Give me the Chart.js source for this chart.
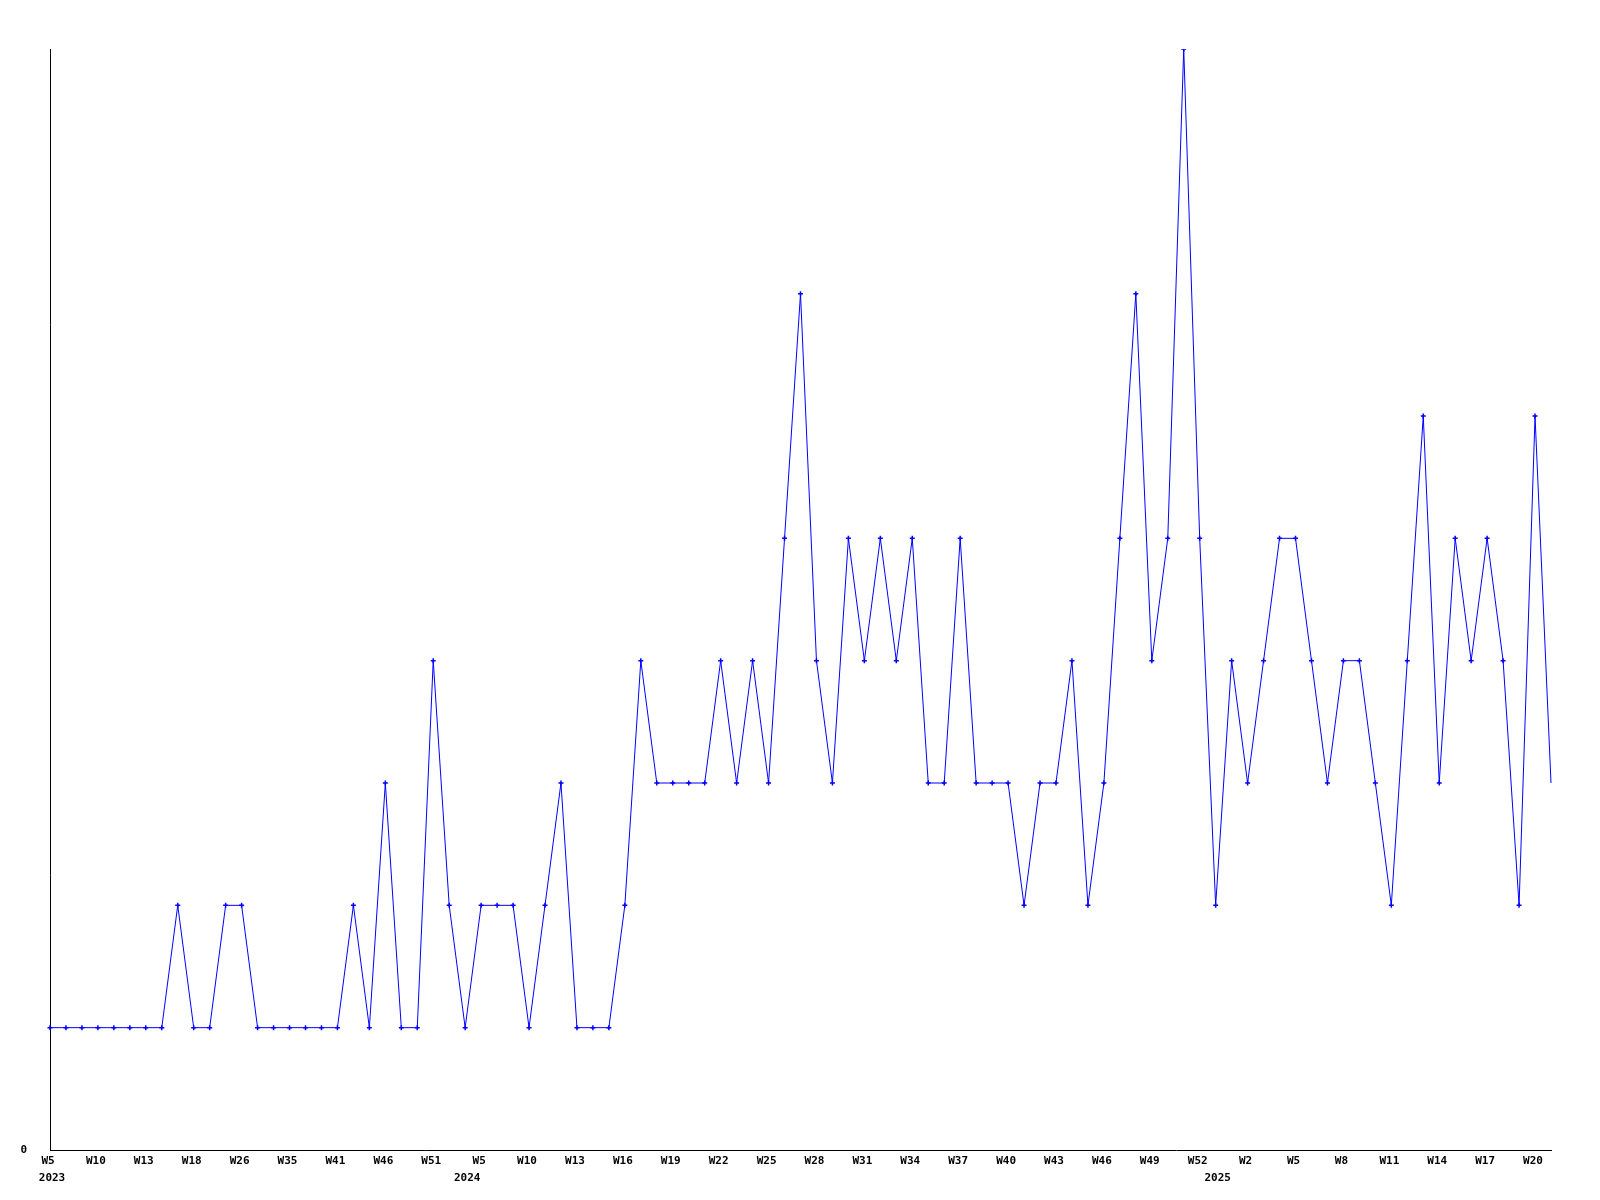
<!DOCTYPE html>
<html>
<head>
<meta charset="utf-8">
<script src="https://cdn.jsdelivr.net/npm/chart.js@4/dist/chart.umd.min.js"></script>
<style>
    body { margin: 0; background: #fff; }
    #contenedor { width: 1600px; height: 1200px; }
</style>
</head>
<body>
<div id="contenedor"><canvas id="grafico"></canvas></div>
<script>
// Semanas con datos (solo se muestra una de cada tres en el eje)
const semanas = [
    "W5", "W6", "W8", "W10", "W11", "W12", "W13", "W15", "W17", "W18",
    "W21", "W23", "W26", "W29", "W31", "W35", "W37", "W39", "W41", "W43",
    "W44", "W46", "W48", "W49", "W51", "W52",
    "W2", "W5", "W7", "W8", "W10", "W11", "W12", "W13", "W14", "W15",
    "W16", "W17", "W18", "W19", "W20", "W21", "W22", "W23", "W24", "W25",
    "W26", "W27", "W28", "W29", "W30", "W31", "W32", "W33", "W34", "W35",
    "W36", "W37", "W38", "W39", "W40", "W41", "W42", "W43", "W44", "W45",
    "W46", "W47", "W48", "W49", "W50", "W51", "W52",
    "W1", "W1", "W2", "W3", "W4", "W5", "W6", "W7", "W8", "W9", "W10",
    "W11", "W12", "W13", "W14", "W15", "W16", "W17", "W18", "W19", "W20", "W21"
];

// Años y el indice del eje donde se escribe cada uno
const anios = ["2023", "2024", "2025"];
const posicionAnio = [0, 26, 73];

// Cantidad por semana
const valores = [
    1, 1, 1, 1, 1, 1, 1, 1, 2, 1,
    1, 2, 2, 1, 1, 1, 1, 1, 1, 2,
    1, 3, 1, 1, 4, 2, 1, 2, 2, 2,
    1, 2, 3, 1, 1, 1, 2, 4, 3, 3,
    3, 3, 4, 3, 4, 3, 5, 7, 4, 3,
    5, 4, 5, 4, 5, 3, 3, 5, 3, 3,
    3, 2, 3, 3, 4, 2, 3, 5, 7, 4,
    5, 9, 5, 2, 4, 3, 4, 5, 5, 4,
    3, 4, 4, 3, 2, 4, 6, 3, 5, 4,
    5, 4, 2, 6, 3
];

const PASO_ETIQUETA = 3;

const fuente = { family: "'DejaVu Sans Mono', monospace", size: 11, weight: 'bold', lineHeight: 1.35 };

const ctx = document.getElementById('grafico');
new Chart(ctx, {
    type: 'line',
    data: {
        labels: semanas,
        datasets: [{
            data: valores,
            xAxisID: 'x',
            borderColor: '#0000ff',
            backgroundColor: '#0000ff',
            borderWidth: 1,
            tension: 0,
            pointStyle: 'cross',
            pointRadius: valores.map((v, i) => i == valores.length - 1 ? 0 : 2.5),
            pointBorderWidth: 1.5,
            pointBorderColor: '#0000ff',
            fill: false
        }]
    },
    options: {
        responsive: true,
        maintainAspectRatio: false,
        animation: false,
        layout: {
            padding: { top: 49, right: 49, left: 0, bottom: 0 }
        },
        plugins: {
            legend: { display: false },
            tooltip: { enabled: false }
        },
        scales: {
            x: {
                type: 'category',
                position: 'bottom',
                weight: 0,
                offset: false,
                grid: { display: false, drawTicks: false },
                border: { display: true, color: '#000', width: 1 },
                ticks: {
                    autoSkip: false,
                    maxRotation: 0,
                    minRotation: 0,
                    padding: 4,
                    labelOffset: -2,
                    color: '#000',
                    font: fuente,
                    callback: function (value, index) {
                        return index % PASO_ETIQUETA == 0 ? semanas[index] : "";
                    }
                },
                afterFit: function (scale) {
                    scale.height = 16;
                }
            },
            // segundo eje solo para los años
            xAnio: {
                type: 'category',
                position: 'bottom',
                weight: 1,
                offset: false,
                grid: { display: false, drawTicks: false },
                border: { display: false },
                ticks: {
                    autoSkip: false,
                    maxRotation: 0,
                    minRotation: 0,
                    padding: 5,
                    labelOffset: 2,
                    color: '#000',
                    font: fuente,
                    callback: function (value, index) {
                        let j = posicionAnio.indexOf(index);
                        return j >= 0 ? anios[j] : "";
                    }
                },
                afterFit: function (scale) {
                    scale.height = 34;
                }
            },
            y: {
                min: 0,
                max: 9,
                grid: { display: false, drawTicks: false },
                border: { display: true, color: '#000', width: 1 },
                ticks: {
                    stepSize: 1,
                    padding: 23,
                    color: '#000',
                    font: fuente,
                    callback: function (value) {
                        return value == 0 ? "0" : "";
                    }
                },
                afterFit: function (scale) {
                    scale.width = 50;
                }
            }
        }
    }
});
</script>
</body>
</html>
